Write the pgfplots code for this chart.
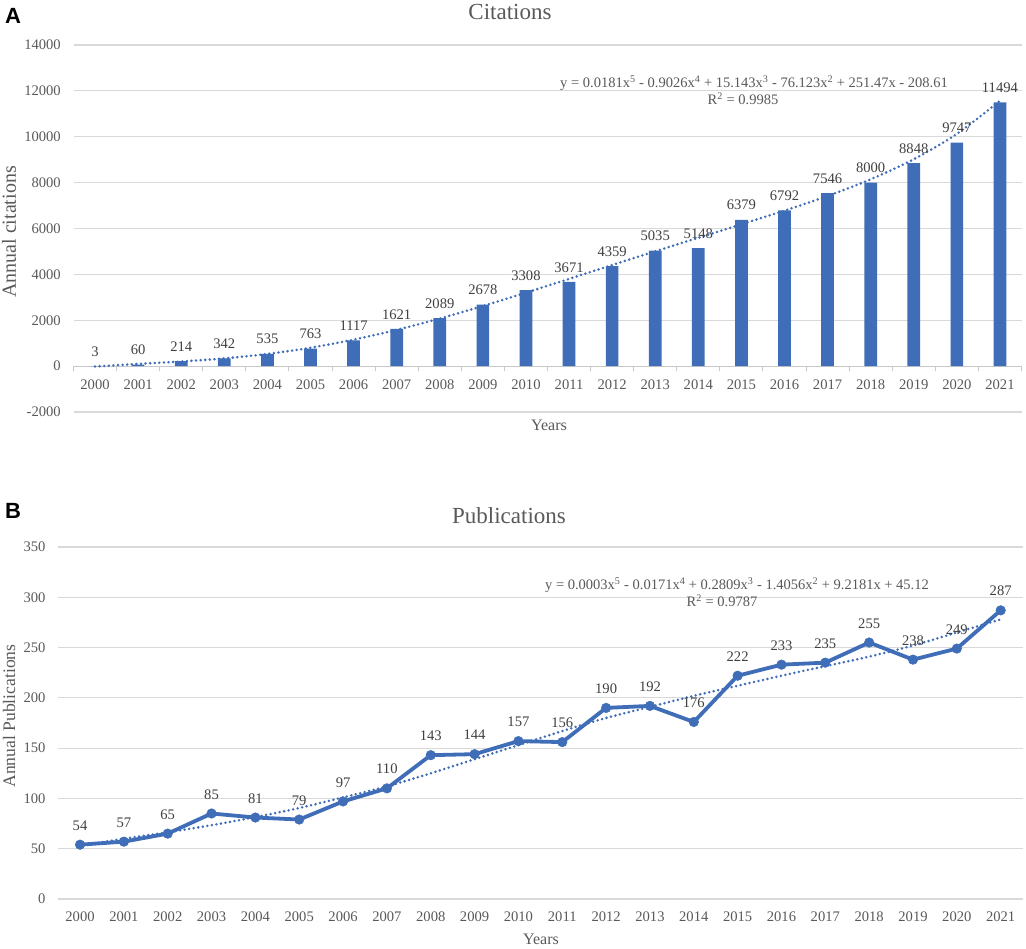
\documentclass[border=0pt]{standalone}
\usepackage{fontspec}
\setmainfont{Liberation Serif}
\newfontfamily\panelfont{Liberation Sans}
\usepackage{pgfplots}
\pgfplotsset{compat=1.18}
\definecolor{barblue}{RGB}{63,109,183}
\definecolor{gridgray}{RGB}{217,217,217}
\definecolor{axisgray}{RGB}{200,200,200}
\definecolor{labelgray}{RGB}{89,89,89}
\definecolor{datagray}{RGB}{64,64,64}
\newcommand\fs[1]{\fontsize{#1pt}{#1pt}\selectfont}
\pgfplotsset{
  common/.style={
    scale only axis, anchor=south west,
    xmin=-0.5, xmax=21.5,
    xtick={0,...,21},
    xticklabels={2000,2001,2002,2003,2004,2005,2006,2007,2008,2009,2010,2011,2012,2013,2014,2015,2016,2017,2018,2019,2020,2021},
    ymajorgrids, grid style={draw=gridgray, line width=1.2pt},
    major tick length=0pt,
    scaled y ticks=false,
    tick label style={font=\fs{14.6}, text=labelgray},
    /pgf/number format/assume math mode=true,
    /pgf/number format/1000 sep={},
    yticklabel style={anchor=east, inner sep=0pt, xshift=-12.5pt},
    xticklabel style={anchor=base, inner sep=0pt, yshift=-23pt},
    y axis line style={draw=none},
    hide obscured x ticks=false, hide obscured y ticks=false,
    clip=false,
  },
  trend/.style={barblue, line width=2.8pt, line cap=round, dash pattern=on 0pt off 4.6pt, smooth},
}
\begin{document}
\begin{tikzpicture}[x=1pt,y=1pt]
\useasboundingbox (0,0) rectangle (1026,949);
% ---------- Panel A ----------
\node[font=\panelfont\bfseries\fs{22}] at (13,933) {A};
\node[font=\fs{23}, text=labelgray, anchor=base] at (510,929) {Citations};
\begin{axis}[common,
  at={(73.5pt,537pt)}, width=948pt, height=367pt,
  ymin=-2000, ymax=14000,
  ytick={-2000,0,2000,4000,6000,8000,10000,12000,14000},
  minor xtick={-0.5,0.5,...,21.5},
  axis x line*=middle, axis y line*=left,
  x axis line style={draw=axisgray, line width=1.2pt},
  minor tick length=5pt, tick align=outside,
  minor tick style={draw=axisgray, line width=1pt},
]
\addplot[ybar, bar width=12.7pt, fill=barblue, draw=none,
  nodes near coords,
  nodes near coords style={font=\fs{14.6}, text=datagray, anchor=south, inner sep=0pt, yshift=9.5pt}]
  coordinates {(0,3) (1,60) (2,214) (3,342) (4,535) (5,763) (6,1117) (7,1621) (8,2089) (9,2678) (10,3308) (11,3671) (12,4359) (13,5035) (14,5148) (15,6379) (16,6792) (17,7546) (18,8000) (19,8848) (20,9747) (21,11494)};
\addplot[trend] coordinates {(0,-19) (1,97) (2,201) (3,336) (4,531) (5,802) (6,1153) (7,1581) (8,2075) (9,2621) (10,3201) (11,3802) (12,4406) (13,5005) (14,5594) (15,6180) (16,6778) (17,7418) (18,8144) (19,9020) (20,10125) (21,11564)};
\end{axis}
\node[font=\fs{14.5}, text=labelgray, anchor=base] at (754,861.3) {y = 0.0181x\textsuperscript{5} - 0.9026x\textsuperscript{4} + 15.143x\textsuperscript{3} - 76.123x\textsuperscript{2} + 251.47x - 208.61};
\node[font=\fs{14.5}, text=labelgray, anchor=base] at (743,844.7) {R\textsuperscript{2} = 0.9985};
\node[font=\fs{20}, text=labelgray, rotate=90] at (9,717) {Annual citations};
\node[font=\fs{16}, text=labelgray, anchor=base] at (549,518.5) {Years};
% ---------- Panel B ----------
\node[font=\panelfont\bfseries\fs{22}] at (13,438) {B};
\node[font=\fs{23}, text=labelgray, anchor=base] at (509,425) {Publications};
\begin{axis}[common,
  at={(58.1pt,50pt)}, width=964.5pt, height=352pt,
  ymin=0, ymax=350,
  ytick={0,50,100,150,200,250,300,350},
  axis x line*=bottom, axis y line*=left,
  x axis line style={draw=none},
]
\addplot[barblue, line width=3.8pt, mark=*, mark size=4.8pt,
  mark options={solid, fill=barblue, draw=barblue, line width=0.5pt},
  nodes near coords,
  nodes near coords style={font=\fs{14.6}, text=datagray, anchor=south, inner sep=0pt, yshift=14pt}]
  coordinates {(0,54) (1,57) (2,65) (3,85) (4,81) (5,79) (6,97) (7,110) (8,143) (9,144) (10,157) (11,156) (12,190) (13,192) (14,176) (15,222) (16,233) (17,235) (18,255) (19,238) (20,249) (21,287)};
\addplot[trend] coordinates {(0,53.2) (1,59.9) (2,66.4) (3,73.4) (4,81.4) (5,90.5) (6,101) (7,112) (8,125) (9,139) (10,153) (11,167) (12,180) (13,191) (14,202) (15,212) (16,222) (17,231.5) (18,241) (19,252) (20,265) (21,278)};
\end{axis}
\node[font=\fs{14.5}, text=labelgray, anchor=base] at (737,359) {y = 0.0003x\textsuperscript{5} - 0.0171x\textsuperscript{4} + 0.2809x\textsuperscript{3} - 1.4056x\textsuperscript{2} + 9.2181x + 45.12};
\node[font=\fs{14.5}, text=labelgray, anchor=base] at (722,342.3) {R\textsuperscript{2} = 0.9787};
\node[font=\fs{17.6}, text=labelgray, rotate=90] at (9,233) {Annual Publications};
\node[font=\fs{16}, text=labelgray, anchor=base] at (541,4) {Years};
\end{tikzpicture}
\end{document}
